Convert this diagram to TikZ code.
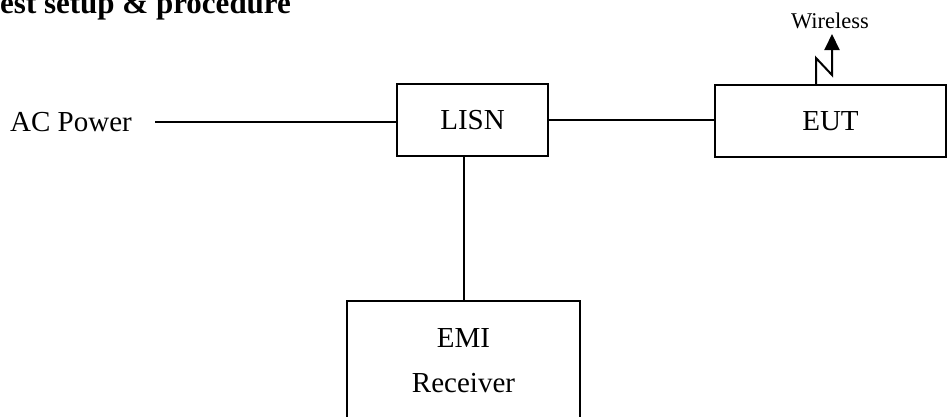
\documentclass[tikz,border=0pt]{standalone}
\usepackage{fontspec}
\setmainfont{Liberation Serif}
\usetikzlibrary{arrows.meta}
\begin{document}
\begin{tikzpicture}[x=1pt,y=-1pt,
  conn/.style={line width=2pt},
  box/.style={draw, line width=2pt, inner sep=0pt},
  lbl/.style={font=\fontsize{29}{34}\selectfont, inner sep=0pt}]
\useasboundingbox (0,0) rectangle (948,416);
% title (cut off at the top and left in the reference)
\node[anchor=base west, font=\bfseries\fontsize{31}{36}\selectfont, inner sep=0pt] (title) at (0,13) {est setup \& procedure};
% nodes
\node[lbl, anchor=west] (ac) at (10,122) {AC Power};
\node[box, lbl, minimum width=151pt, minimum height=72pt] (lisn) at (472.5,120) {LISN};
\node[box, lbl, minimum width=231pt, minimum height=72pt] (eut) at (830.5,121) {EUT};
\node[box, minimum width=233pt, minimum height=140pt, anchor=north] (emi) at (463.5,300) {};
\node[lbl, align=center] (emitext) at (463.5,360.5) {EMI\\[11pt]Receiver};
\node[anchor=base, font=\fontsize{22.5}{27}\selectfont, inner sep=0pt] (wl) at (830,28) {Wireless};
\coordinate (acend) at (155,122);
% connectors
\draw[conn] (acend) -- (acend -| lisn.west);
\draw[conn] (lisn.east) -- (lisn.east -| eut.west);
\draw[conn] (emi.north |- lisn.south) -- (emi.north);
\draw[conn, -{Triangle[width=15pt,length=16pt]}] (eut.north) ++(-14.5,0) -- ++(0,-26) -- ++(16,17) -- ++(0,-41);
\end{tikzpicture}
\end{document}
